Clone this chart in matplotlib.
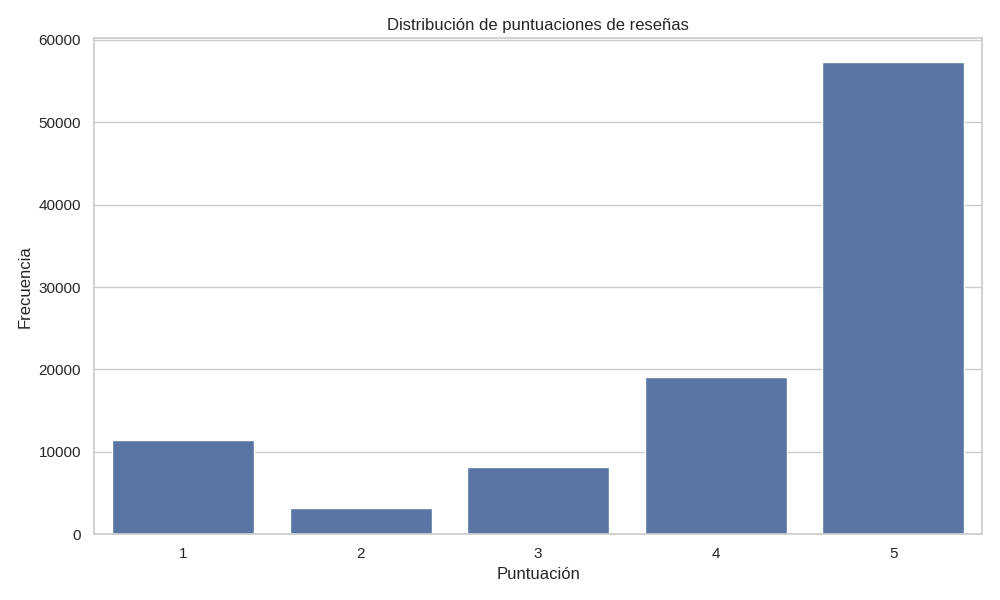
import matplotlib
matplotlib.use("Agg")
import matplotlib.pyplot as plt
import seaborn as sns

puntuaciones = ["1", "2", "3", "4", "5"]
frecuencias = [11424, 3151, 8179, 19142, 57328]

sns.set_theme(style="whitegrid")
plt.rcParams['font.family'] = ['Liberation Sans', 'DejaVu Sans']

plt.figure(figsize=(10, 6))
sns.barplot(x=puntuaciones, y=frecuencias)
plt.title("Distribución de puntuaciones de reseñas")
plt.xlabel("Puntuación")
plt.ylabel("Frecuencia")
plt.tight_layout()
plt.savefig("out.png", dpi=100)
